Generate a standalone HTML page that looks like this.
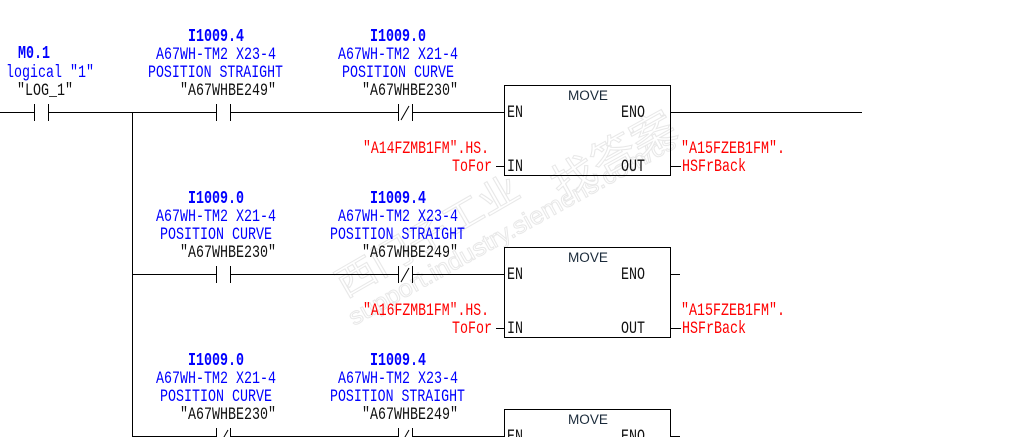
<!DOCTYPE html>
<html><head><meta charset="utf-8"><style>
html,body{margin:0;padding:0;background:#fff;width:1025px;height:437px;overflow:hidden}
svg{display:block}
text{font-family:"Liberation Mono",monospace;font-size:17.5px}
.b{fill:#00f}.h{fill:#00f;font-weight:bold;font-size:18px}.k{fill:#111}.r{fill:#f00}
.m{font-family:"Liberation Sans",sans-serif;font-size:13.5px;fill:#1a2a3a}
.w{font-family:"Liberation Sans","Noto Sans CJK SC",sans-serif;fill:#fff;stroke:#e8e8e8;stroke-width:1}
path,rect{fill:none;stroke:#000;stroke-width:1}
</style></head><body>
<svg width="1025" height="437" viewBox="0 0 1025 437" xmlns="http://www.w3.org/2000/svg">
<g class="wm">
<text class="w" style="font-size:36px" transform="translate(345,298) rotate(-30)" textLength="205" lengthAdjust="spacingAndGlyphs">西门子工业</text>
<text class="w" style="font-size:24px" transform="translate(354,326) rotate(-29)" textLength="370" lengthAdjust="spacingAndGlyphs">support.industry.siemens.com/cs</text>
<text class="w" style="font-size:40px" transform="translate(561,200) rotate(-29)" textLength="135" lengthAdjust="spacingAndGlyphs">找答案</text>
</g>
<g shape-rendering="crispEdges">
<path d="M0 112.5H34.5M48.5 112.5H216.5M230.5 112.5H398.5M412.5 112.5H504.5M670.5 112.5H862M132.5 112.5V437"/>
<path d="M34.5 104V121M48.5 104V121M216.5 104V121M230.5 104V121M398.5 104V121M412.5 104V121"/>
<rect x="504.5" y="85.5" width="166" height="90"/>
<path d="M496 166.5H504.5M670.5 166.5H681"/>
<path d="M132.5 274.5H216.5M230.5 274.5H398.5M412.5 274.5H504.5M670.5 274.5H680"/>
<path d="M216.5 266V283M230.5 266V283M398.5 266V283M412.5 266V283"/>
<rect x="504.5" y="247.5" width="166" height="90"/>
<path d="M496 328.5H504.5M670.5 328.5H681"/>
<path d="M132.5 436.5H216.5M230.5 436.5H398.5M412.5 436.5H504.5M670.5 436.5H680"/>
<path d="M216.5 428V437M230.5 428V437M398.5 428V437M412.5 428V437"/>
<rect x="504.5" y="409.5" width="166" height="40"/>
</g>
<path d="M401 120L409 106M401 282L409 268M220 444L228 430M401 444L409 430"/>

<!-- rung 1 -->
<text class="h" x="18" y="58" textLength="32" lengthAdjust="spacingAndGlyphs">M0.1</text>
<text class="b" x="6" y="77" textLength="88" lengthAdjust="spacingAndGlyphs">logical "1"</text>
<text class="k" x="17" y="95" textLength="56" lengthAdjust="spacingAndGlyphs">"LOG_1"</text>

<text class="h" x="188" y="41" textLength="56" lengthAdjust="spacingAndGlyphs">I1009.4</text>
<text class="b" x="156" y="59" textLength="120" lengthAdjust="spacingAndGlyphs">A67WH-TM2 X23-4</text>
<text class="b" x="148" y="77" textLength="135" lengthAdjust="spacingAndGlyphs">POSITION STRAIGHT</text>
<text class="k" x="180" y="95" textLength="96" lengthAdjust="spacingAndGlyphs">"A67WHBE249"</text>

<text class="h" x="370" y="41" textLength="56" lengthAdjust="spacingAndGlyphs">I1009.0</text>
<text class="b" x="338" y="59" textLength="120" lengthAdjust="spacingAndGlyphs">A67WH-TM2 X21-4</text>
<text class="b" x="342" y="77" textLength="112" lengthAdjust="spacingAndGlyphs">POSITION CURVE</text>
<text class="k" x="362" y="95" textLength="96" lengthAdjust="spacingAndGlyphs">"A67WHBE230"</text>

<text class="m" x="568" y="100" textLength="40" lengthAdjust="spacingAndGlyphs">MOVE</text>
<text class="k" x="507" y="117" textLength="16" lengthAdjust="spacingAndGlyphs">EN</text>
<text class="k" x="621" y="117" textLength="24" lengthAdjust="spacingAndGlyphs">ENO</text>
<text class="k" x="507" y="171" textLength="16" lengthAdjust="spacingAndGlyphs">IN</text>
<text class="k" x="621" y="171" textLength="24" lengthAdjust="spacingAndGlyphs">OUT</text>
<text class="r" x="363" y="153" textLength="126" lengthAdjust="spacingAndGlyphs">"A14FZMB1FM".HS.</text>
<text class="r" x="452" y="171" textLength="40" lengthAdjust="spacingAndGlyphs">ToFor</text>
<text class="r" x="681" y="153" textLength="104" lengthAdjust="spacingAndGlyphs">"A15FZEB1FM".</text>
<text class="r" x="682" y="171" textLength="64" lengthAdjust="spacingAndGlyphs">HSFrBack</text>

<!-- rung 2 -->
<text class="h" x="188" y="203" textLength="56" lengthAdjust="spacingAndGlyphs">I1009.0</text>
<text class="b" x="156" y="221" textLength="120" lengthAdjust="spacingAndGlyphs">A67WH-TM2 X21-4</text>
<text class="b" x="160" y="239" textLength="112" lengthAdjust="spacingAndGlyphs">POSITION CURVE</text>
<text class="k" x="180" y="257" textLength="96" lengthAdjust="spacingAndGlyphs">"A67WHBE230"</text>

<text class="h" x="370" y="203" textLength="56" lengthAdjust="spacingAndGlyphs">I1009.4</text>
<text class="b" x="338" y="221" textLength="120" lengthAdjust="spacingAndGlyphs">A67WH-TM2 X23-4</text>
<text class="b" x="330" y="239" textLength="135" lengthAdjust="spacingAndGlyphs">POSITION STRAIGHT</text>
<text class="k" x="362" y="257" textLength="96" lengthAdjust="spacingAndGlyphs">"A67WHBE249"</text>

<text class="m" x="568" y="262" textLength="40" lengthAdjust="spacingAndGlyphs">MOVE</text>
<text class="k" x="507" y="279" textLength="16" lengthAdjust="spacingAndGlyphs">EN</text>
<text class="k" x="621" y="279" textLength="24" lengthAdjust="spacingAndGlyphs">ENO</text>
<text class="k" x="507" y="333" textLength="16" lengthAdjust="spacingAndGlyphs">IN</text>
<text class="k" x="621" y="333" textLength="24" lengthAdjust="spacingAndGlyphs">OUT</text>
<text class="r" x="363" y="315" textLength="126" lengthAdjust="spacingAndGlyphs">"A16FZMB1FM".HS.</text>
<text class="r" x="452" y="333" textLength="40" lengthAdjust="spacingAndGlyphs">ToFor</text>
<text class="r" x="681" y="315" textLength="104" lengthAdjust="spacingAndGlyphs">"A15FZEB1FM".</text>
<text class="r" x="682" y="333" textLength="64" lengthAdjust="spacingAndGlyphs">HSFrBack</text>

<!-- rung 3 -->
<text class="h" x="188" y="365" textLength="56" lengthAdjust="spacingAndGlyphs">I1009.0</text>
<text class="b" x="156" y="383" textLength="120" lengthAdjust="spacingAndGlyphs">A67WH-TM2 X21-4</text>
<text class="b" x="160" y="401" textLength="112" lengthAdjust="spacingAndGlyphs">POSITION CURVE</text>
<text class="k" x="180" y="419" textLength="96" lengthAdjust="spacingAndGlyphs">"A67WHBE230"</text>

<text class="h" x="370" y="365" textLength="56" lengthAdjust="spacingAndGlyphs">I1009.4</text>
<text class="b" x="338" y="383" textLength="120" lengthAdjust="spacingAndGlyphs">A67WH-TM2 X23-4</text>
<text class="b" x="330" y="401" textLength="135" lengthAdjust="spacingAndGlyphs">POSITION STRAIGHT</text>
<text class="k" x="362" y="419" textLength="96" lengthAdjust="spacingAndGlyphs">"A67WHBE249"</text>

<text class="m" x="568" y="424" textLength="40" lengthAdjust="spacingAndGlyphs">MOVE</text>
<text class="k" x="507" y="441" textLength="16" lengthAdjust="spacingAndGlyphs">EN</text>
<text class="k" x="621" y="441" textLength="24" lengthAdjust="spacingAndGlyphs">ENO</text>
</svg>
</body></html>
